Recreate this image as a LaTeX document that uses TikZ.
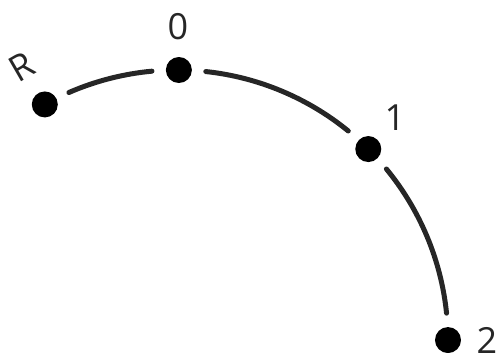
\documentclass[tikz,border=0pt]{standalone}
\usepackage{fontspec}
\setmainfont{Open Sans}
\usetikzlibrary{calc}
\begin{document}
\begin{tikzpicture}[x=1pt,y=1pt,
  dot/.style={circle,fill=black,inner sep=0pt,minimum size=26pt},
  lbl/.style={font=\fontsize{36}{40}\selectfont,inner sep=0pt,text=black!85},
  arcseg/.style={line width=5pt,line cap=round,draw=black!85}]
\useasboundingbox (0,-353) rectangle (503,0);
\coordinate (C) at (177,-341);
\node[dot] (R) at ($(C)+(119.2:271)$) {};
\node[dot] (n0) at ($(C)+(89.6:271)$) {};
\node[dot] (n1) at ($(C)+(45.1:271)$) {};
\node[dot] (n2) at ($(C)+(0.2:271)$) {};
\draw[arcseg] ($(C)+(113.5:271)$) arc[start angle=113.5,end angle=95.3,radius=271];
\draw[arcseg] ($(C)+(83.9:271)$) arc[start angle=83.9,end angle=50.8,radius=271];
\draw[arcseg] ($(C)+(39.4:271)$) arc[start angle=39.4,end angle=5.9,radius=271];
\node[lbl,rotate=30] (lR) at (22,-67) {R};
\node[lbl] (l0) at (178,-27) {0};
\node[lbl] (l1) at (395,-118) {1};
\node[lbl] (l2) at (487,-340) {2};
\end{tikzpicture}
\end{document}
